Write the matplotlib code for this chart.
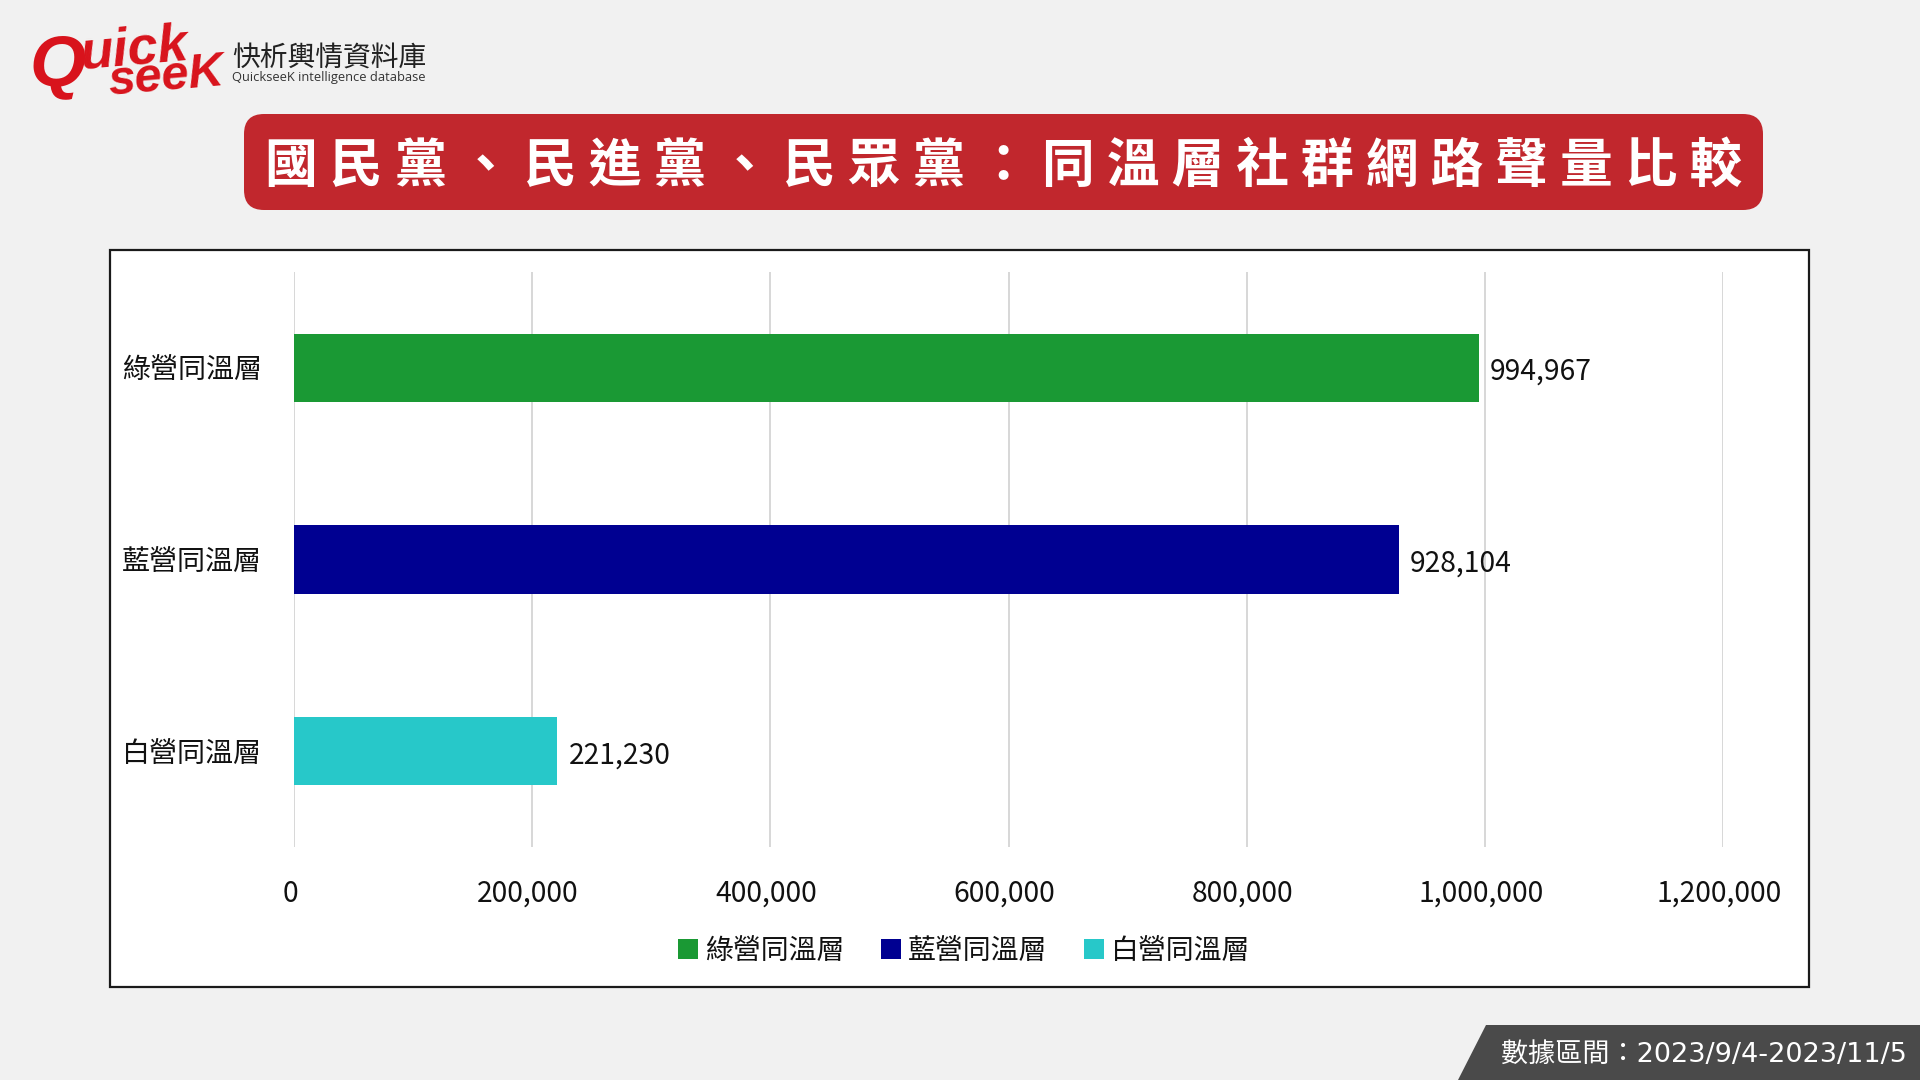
import matplotlib
matplotlib.use("Agg")
import matplotlib.pyplot as plt
from matplotlib.patches import FancyBboxPatch, Polygon, Rectangle
from matplotlib.transforms import ScaledTranslation

plt.rcParams['font.family'] = ['Noto Sans CJK TC', 'DejaVu Sans']

categories = ["綠營同溫層", "藍營同溫層", "白營同溫層"]
values = [994967, 928104, 221230]
colors = ["#1a9934", "#000091", "#27c8c9"]
x_ticks = [0, 200000, 400000, 600000, 800000, 1000000, 1200000]

title = "國 民 黨 、 民 進 黨 、 民 眾 黨 \uff1a 同 溫 層 社 群 網 路 聲 量 比 較"
footer = "數據區間\uff1a2023/9/4-2023/11/5"

W, H = 1920, 1080


def fx(px):
    return px / W


def fy(py):
    # pixel rows run downward in the reference
    return 1 - py / H


def main():
    fig = plt.figure(figsize=(19.2, 10.8), dpi=100, facecolor="#f1f1f1")

    # white chart panel, kept under the axes
    fig.add_artist(Rectangle((fx(110), fy(987)), fx(1699), 737 / H, transform=fig.transFigure,
                             facecolor="white", edgecolor="#1a1a1a", linewidth=1.6, zorder=-1))

    # title banner
    fig.add_artist(FancyBboxPatch((244, H - 210), 1519, 96, boxstyle="round,pad=0,rounding_size=20",
                                  transform=None, facecolor="#c1272d", edgecolor="none", zorder=-1))
    fig.text(fx(1004), fy(166), title, color="white", fontsize=38, fontweight="bold",
             ha="center", va="center")

    # footer tag
    fig.add_artist(Polygon([(fx(1458), 0), (fx(1486), fy(1025)), (1, fy(1025)), (1, 0)],
                           transform=fig.transFigure, facecolor="#4a4a4a", edgecolor="none", zorder=-1))
    fig.text(fx(1907), fy(1055), footer, color="white", fontsize=19.5,
             family=['DejaVu Sans', 'Noto Sans CJK TC'], ha="right", va="center")

    # logo
    red = "#d8131c"
    fig.text(fx(29), fy(67), "Q", color=red, fontsize=52, fontweight="bold", style="italic",
             family="Liberation Sans", ha="left", va="center")
    fig.text(fx(78), fy(50), "uick", color=red, fontsize=39, fontweight="bold", style="italic",
             family="Liberation Sans", ha="left", va="center", rotation=5)
    fig.text(fx(106), fy(77), "seeK", color=red, fontsize=35, fontweight="bold", style="italic",
             family="Liberation Sans", ha="left", va="center", rotation=5)
    fig.text(fx(232), fy(59), "快析輿情資料庫", color="#222222", fontsize=20, ha="left", va="center")
    fig.text(fx(232), fy(78), "QuickseeK intelligence database", color="#333333", fontsize=9.3,
             family="Open Sans", ha="left", va="center")

    # chart
    ax = fig.add_axes([fx(294), fy(847), fx(1723 - 294), (847 - 272) / H], facecolor="none")
    y_pos = list(range(len(categories)))
    for i in y_pos:
        ax.barh(y_pos[i], values[i], height=0.355, color=colors[i], label=categories[i], zorder=3)
        ax.text(values[i], y_pos[i], f"{values[i]:,}", fontsize=20.4, color="#111111",
                ha="left", va="center", zorder=4,
                transform=ax.transData + ScaledTranslation(11 / 100, -4 / 100, fig.dpi_scale_trans))

    ax.set_xlim(0, 1200000)
    ax.set_ylim(2.5, -0.5)
    ax.set_yticks(y_pos)
    ax.set_yticklabels(categories, fontsize=20.2, color="#111111")
    ax.set_xticks(x_ticks)
    ax.set_xticklabels([f"{t:,}" for t in x_ticks], fontsize=20.4, color="#111111")
    ax.tick_params(axis="x", length=0, pad=23)
    ax.tick_params(axis="y", length=0, pad=23)
    # reference labels sit slightly off their ticks
    x_shift = ScaledTranslation(-4 / 100, 0, fig.dpi_scale_trans)
    for lab in ax.get_xticklabels():
        lab.set_transform(lab.get_transform() + x_shift)
    y_shift = ScaledTranslation(0, 1 / 100, fig.dpi_scale_trans)
    for lab in ax.get_yticklabels():
        lab.set_transform(lab.get_transform() + y_shift)
    ax.grid(axis="x", color="#d4d4d4", linewidth=1.3, zorder=1)
    ax.set_axisbelow(True)
    for side in ax.spines:
        ax.spines[side].set_visible(False)

    ax.legend(loc="center", bbox_to_anchor=(fx(964), fy(951)), bbox_transform=fig.transFigure,
              ncol=3, frameon=False, fontsize=20.1, handlelength=0.72, handleheight=0.72,
              handletextpad=0.26, columnspacing=1.3, labelcolor="#111111")

    fig.savefig("out.png", dpi=100, facecolor=fig.get_facecolor())
    plt.close(fig)


if __name__ == '__main__':
    main()
